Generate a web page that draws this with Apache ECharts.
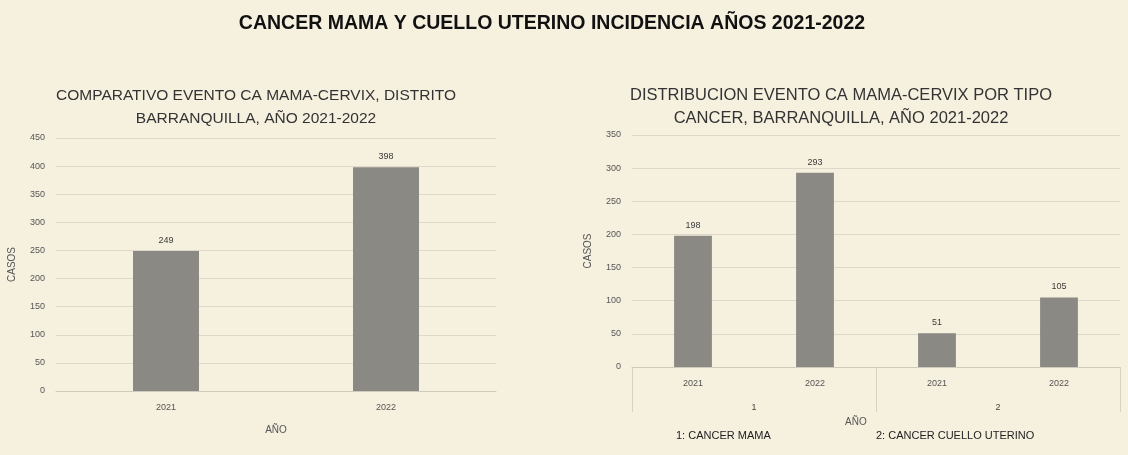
<!DOCTYPE html>
<html>
<head>
<meta charset="utf-8">
<title>CANCER MAMA Y CUELLO UTERINO</title>
<script src="https://cdn.jsdelivr.net/npm/echarts@6/dist/echarts.min.js"></script>
<style>
  html, body {margin: 0; padding: 0; background: #f6f0df;}
  #main {width: 1128px; height: 455px;}
</style>
</head>
<body>
<div id="main"></div>
<script>
// 数据：左图 年度对比
const leftYears = ['2021', '2022'];
const leftCases = [249, 398];

// 数据：右图 按类型分布
const rightYears = ['2021', '2022', '2021', '2022'];
const rightGroups = ['1', '2'];
const rightCases = [198, 293, 51, 105];

const mainTitle = 'CANCER MAMA Y CUELLO UTERINO INCIDENCIA AÑOS 2021-2022';
const leftTitle = 'COMPARATIVO EVENTO CA MAMA-CERVIX, DISTRITO\nBARRANQUILLA, AÑO 2021-2022';
const rightTitle = 'DISTRIBUCION EVENTO CA MAMA-CERVIX POR TIPO\nCANCER, BARRANQUILLA, AÑO 2021-2022';
const groupNotes = ['1: CANCER MAMA', '2: CANCER CUELLO UTERINO'];

const barColor = '#8b8983';
const gridColor = '#ddd8ca';
const textColor = '#3a3a3a';
const titleFont = '"Liberation Sans", sans-serif';
const smallFont = '"Liberation Sans", sans-serif';

/**
 * 数值轴
 */
const valueAxis = (gridIndex, max) => ({
  type: 'value',
  gridIndex: gridIndex,
  min: 0,
  max: max,
  interval: 50,
  name: 'CASOS',
  nameLocation: 'middle',
  nameGap: 39,
  nameTextStyle: {color: '#555', fontSize: 10, fontFamily: smallFont},
  axisLabel: {color: '#555', fontSize: 9, margin: 11, fontFamily: smallFont},
  axisLine: {show: false},
  axisTick: {show: false},
  splitLine: {lineStyle: {color: gridColor, width: 1}}
});

/**
 * 柱状系列
 */
const barSeries = (index, data) => ({
  type: 'bar',
  xAxisIndex: index,
  yAxisIndex: index,
  data: data,
  barWidth: '31%',
  itemStyle: {color: barColor},
  label: {show: true, position: 'top', distance: 6, color: textColor, fontSize: 9, fontFamily: smallFont}
});

const myChart = echarts.init(document.getElementById('main'));

myChart.setOption({
  backgroundColor: '#f6f0df',
  animation: false,
  title: [
    {text: mainTitle, left: 547, top: 9, textAlign: 'center',
      textStyle: {fontSize: 19.5, fontWeight: 'bold', color: '#111', fontFamily: titleFont}},
    {text: leftTitle, left: 251, top: 79, textAlign: 'center',
      textStyle: {fontSize: 15.5, fontWeight: 'normal', color: '#333', lineHeight: 23, fontFamily: titleFont}},
    {text: rightTitle, left: 836, top: 79, textAlign: 'center',
      textStyle: {fontSize: 16.5, fontWeight: 'normal', color: '#333', lineHeight: 23, fontFamily: titleFont}}
  ],
  grid: [
    {left: 56, right: 632, top: 138, bottom: 64},
    {left: 632, right: 8, top: 135, bottom: 88}
  ],
  xAxis: [
    {
      type: 'category', gridIndex: 0, data: leftYears,
      name: 'AÑO', nameLocation: 'middle', nameGap: 34,
      nameTextStyle: {color: '#555', fontSize: 10, fontFamily: smallFont},
      axisLabel: {color: '#555', fontSize: 9, margin: 12, fontFamily: smallFont},
      axisLine: {lineStyle: {color: '#cfcabb'}},
      axisTick: {show: false}
    },
    {
      type: 'category', gridIndex: 1, data: rightYears,
      axisLabel: {color: '#555', fontSize: 9, margin: 12, fontFamily: smallFont},
      axisLine: {lineStyle: {color: '#cfcabb'}},
      axisTick: {show: false}
    },
    {
      // 第二层分类轴（1 / 2）
      type: 'category', gridIndex: 1, data: rightGroups, position: 'bottom',
      axisLabel: {color: '#444', fontSize: 9, margin: 36, fontFamily: smallFont},
      axisLine: {show: false},
      axisTick: {show: true, length: 45, lineStyle: {color: '#d6d1c3'}}
    }
  ],
  yAxis: [
    valueAxis(0, 450),
    valueAxis(1, 350)
  ],
  series: [
    Object.assign(barSeries(0, leftCases), {barWidth: '30%'}),
    barSeries(1, rightCases)
  ],
  graphic: [
    {type: 'text', left: 845, top: 417,
      style: {text: 'AÑO', fill: '#555', font: '10px ' + smallFont}},
    {type: 'text', left: 676, top: 430,
      style: {text: groupNotes[0], fill: '#222', font: '11px ' + smallFont}},
    {type: 'text', left: 876, top: 430,
      style: {text: groupNotes[1], fill: '#222', font: '11px ' + smallFont}}
  ]
});
</script>
</body>
</html>
